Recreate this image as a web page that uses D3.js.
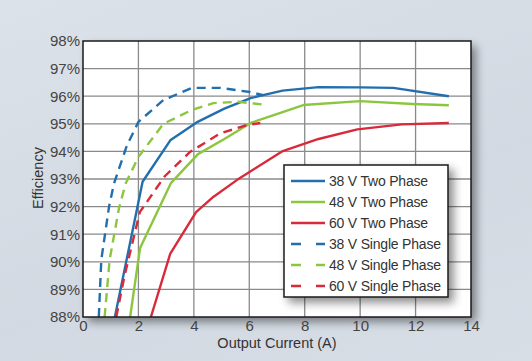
<!DOCTYPE html>
<html>
<head>
<meta charset="utf-8">
<script src="https://cdn.jsdelivr.net/npm/d3@7"></script>
<style>
  html, body { margin: 0; padding: 0; }
  body { width: 532px; height: 361px; overflow: hidden;
         background: linear-gradient(160deg, #dce2e9 0%, #d2d9e2 60%, #d8dee6 100%); }
  text { font-family: "Liberation Sans", Arial, sans-serif; fill: #333; }
</style>
</head>
<body>
<svg id="chart" width="532" height="361"></svg>
<script>
// podatki
var xTicks = [0, 2, 4, 6, 8, 10, 12, 14];
var yTicks = [88, 89, 90, 91, 92, 93, 94, 95, 96, 97, 98];

var seriesNames = ["38 V Two Phase", "48 V Two Phase", "60 V Two Phase",
                   "38 V Single Phase", "48 V Single Phase", "60 V Single Phase"];

var twoPhase38 = [[1.15, 88], [2.15, 92.9], [3.15, 94.4], [4.1, 95.05], [5.1, 95.55], [6.05, 95.93],
                  [7.2, 96.2], [8.5, 96.33], [10, 96.32], [11.2, 96.3], [13.2, 96.0]];
var twoPhase48 = [[1.7, 88], [2.06, 90.5], [3.17, 92.85], [4.15, 93.9], [5.1, 94.45], [6.05, 95.03],
                  [7.95, 95.68], [10, 95.82], [11.9, 95.72], [13.2, 95.67]];
var twoPhase60 = [[2.45, 88], [3.15, 90.3], [4.08, 91.8], [4.7, 92.35], [5.55, 92.96], [7.18, 94.0],
                  [8.5, 94.45], [9.9, 94.8], [11.5, 94.98], [13.2, 95.03]];
var single38 = [[0.57, 88], [0.66, 90.07], [0.94, 92.0], [1.12, 92.84], [1.58, 94.2], [2.0, 95.07],
                [2.9, 95.86], [3.93, 96.3], [4.95, 96.3], [6.03, 96.15], [6.5, 96.04]];
var single48 = [[0.78, 88], [0.96, 90.07], [1.3, 91.95], [1.54, 92.84], [2.0, 93.8], [2.9, 95.0],
                [3.93, 95.5], [4.7, 95.75], [5.6, 95.8], [6.64, 95.68]];
var single60 = [[1.2, 88], [1.5, 89.5], [2.05, 91.8], [2.95, 93.1], [3.86, 93.98], [4.95, 94.65],
                [5.9, 94.95], [6.4, 95.03]];

var allSeries = [twoPhase38, twoPhase48, twoPhase60, single38, single48, single60];
var barve = ["#236fae", "#8cc63f", "#d92a3c", "#236fae", "#8cc63f", "#d92a3c"];
var crtkano = [false, false, false, true, true, true];

// --------------------------------------------------------------------------

var svg = d3.select("#chart");
var margin = {top: 41, left: 83, right: 61, bottom: 44};
var width = 532, height = 361;

var x = d3.scaleLinear().domain([0, 14]).range([margin.left, width - margin.right]);
var y = d3.scaleLinear().domain([88, 98]).range([height - margin.bottom, margin.top]);

var defs = svg.append("defs");
var shadow = defs.append("filter").attr("id", "senca")
  .attr("x", "-10%").attr("y", "-10%").attr("width", "130%").attr("height", "130%");
shadow.append("feGaussianBlur").attr("in", "SourceAlpha").attr("stdDeviation", 5);
shadow.append("feOffset").attr("dx", 5).attr("dy", 5).attr("result", "b");
shadow.append("feComponentTransfer").append("feFuncA").attr("type", "linear").attr("slope", 0.45);
var merge = shadow.append("feMerge");
merge.append("feMergeNode");
merge.append("feMergeNode").attr("in", "SourceGraphic");

defs.append("clipPath").attr("id", "clip")
  .append("rect")
  .attr("x", x(0)).attr("y", y(98))
  .attr("width", x(14) - x(0)).attr("height", y(88) - y(98));

// ozadje grafa
svg.append("rect")
  .attr("x", x(0)).attr("y", y(98))
  .attr("width", x(14) - x(0)).attr("height", y(88) - y(98))
  .attr("fill", "#fff")
  .attr("filter", "url(#senca)");

// mreza
svg.append("g").selectAll("line")
  .data(xTicks.slice(1, -1))
  .enter().append("line")
    .attr("x1", d => x(d)).attr("x2", d => x(d))
    .attr("y1", y(98)).attr("y2", y(88))
    .attr("stroke", "#8a8a8a").attr("stroke-width", 1.3);

svg.append("g").selectAll("line")
  .data(yTicks.slice(1, -1))
  .enter().append("line")
    .attr("x1", x(0)).attr("x2", x(14))
    .attr("y1", d => y(d)).attr("y2", d => y(d))
    .attr("stroke", "#8a8a8a").attr("stroke-width", 1.3);

// crte
var line = d3.line().x(d => x(d[0])).y(d => y(d[1]));

svg.append("g").attr("clip-path", "url(#clip)")
  .selectAll("path")
  .data(allSeries)
  .enter().append("path")
    .attr("d", line)
    .attr("fill", "none")
    .attr("stroke", (d, i) => barve[i])
    .attr("stroke-width", 2.4)
    .attr("stroke-linejoin", "round")
    .attr("stroke-dasharray", (d, i) => crtkano[i] ? "9,6" : null);

// okvir
svg.append("rect")
  .attr("x", x(0)).attr("y", y(98))
  .attr("width", x(14) - x(0)).attr("height", y(88) - y(98))
  .attr("fill", "none").attr("stroke", "#1a1a1a").attr("stroke-width", 1.5);

// osi
svg.append("g")
  .attr("transform", `translate(0, ${y(88)})`)
  .call(d3.axisBottom(x).tickValues(xTicks).tickSize(0).tickPadding(3))
  .call(g => g.select(".domain").remove())
  .selectAll("text")
    .attr("font-size", "15px")
    .attr("font-family", "Liberation Sans, Arial, sans-serif")
    .style("fill", "#444");

svg.append("g")
  .attr("transform", `translate(${x(0)}, 0)`)
  .call(d3.axisLeft(y).tickValues(yTicks).tickSize(0).tickPadding(3).tickFormat(d => d + "%"))
  .call(g => g.select(".domain").remove())
  .selectAll("text")
    .attr("font-size", "15px")
    .attr("font-family", "Liberation Sans, Arial, sans-serif")
    .style("fill", "#444");

svg.append("text")
  .attr("x", (x(0) + x(14)) / 2)
  .attr("y", 348)
  .attr("text-anchor", "middle")
  .attr("font-size", "14.5px")
  .text("Output Current (A)");

svg.append("text")
  .attr("transform", "translate(43, 178) rotate(-90)")
  .attr("text-anchor", "middle")
  .attr("font-size", "14.5px")
  .text("Efficiency");

// legenda
var leg = svg.append("g").attr("transform", "translate(284, 165)");
leg.append("rect")
  .attr("width", 164).attr("height", 132)
  .attr("fill", "#fff").attr("stroke", "#1a1a1a").attr("stroke-width", 1.5)
  .attr("filter", "url(#senca)");

var item = leg.selectAll("g.item")
  .data(seriesNames)
  .enter().append("g")
    .attr("class", "item")
    .attr("transform", (d, i) => `translate(0, ${16 + i * 21})`);

item.append("line")
  .attr("x1", 7).attr("x2", 41)
  .attr("stroke", (d, i) => barve[i])
  .attr("stroke-width", 2.6)
  .attr("stroke-dasharray", (d, i) => crtkano[i] ? "10,15,9" : null);

item.append("text")
  .attr("x", 45)
  .attr("dy", "0.35em")
  .attr("font-size", "14px")
  .attr("letter-spacing", "-0.2px")
  .text(d => d);
</script>
</body>
</html>
